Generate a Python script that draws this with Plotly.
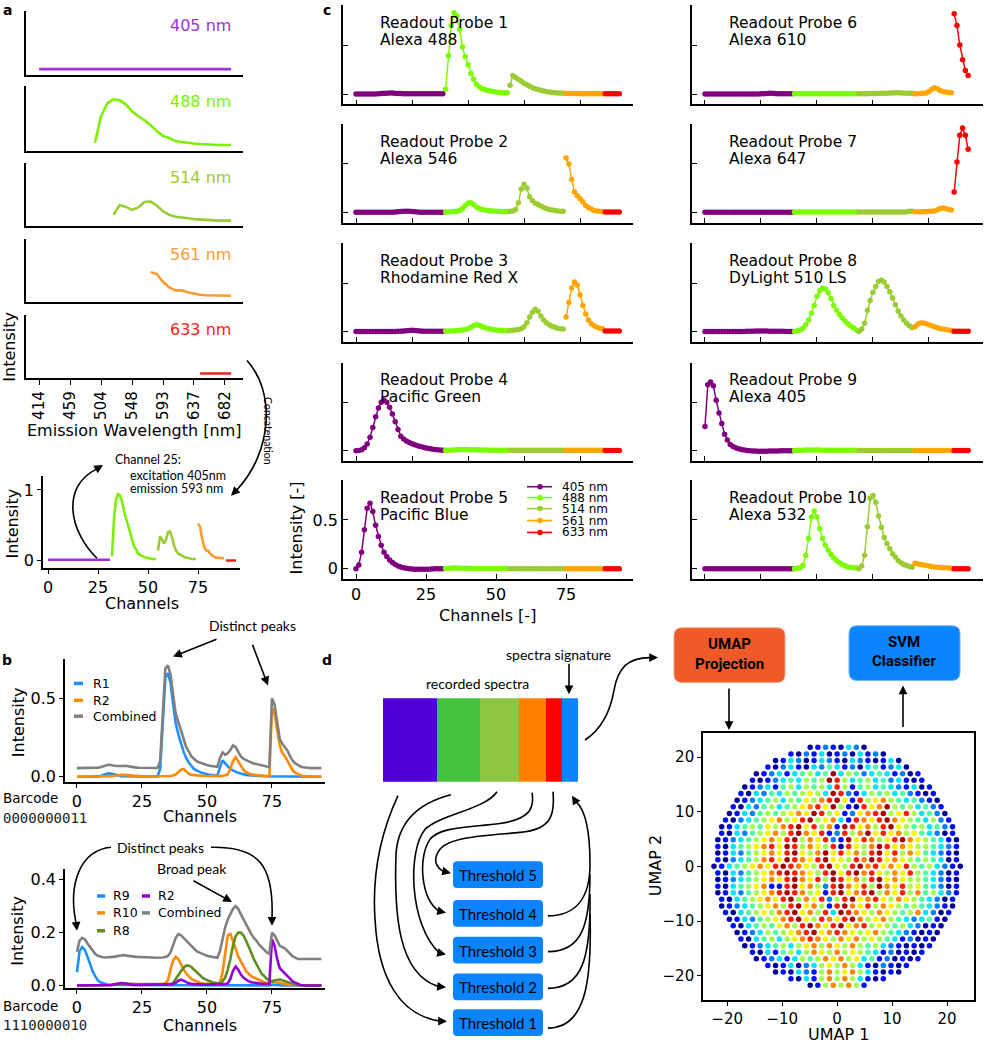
import plotly.graph_objects as go

W, H = 986, 1050
FONT = "DejaVu Sans"
SANS2 = "Lato"

# ------------------------------------------------------------------ data
lasers = ["405 nm", "488 nm", "514 nm", "561 nm", "633 nm"]
channel_start = [0, 32, 55, 75, 89]          # first concatenated channel of each laser
detector_first = [0, 9, 12, 18, 26]          # first detector used by each laser
detector_nm = [414 + 8.93 * k for k in range(32)]
wavelength_ticks = [414, 459, 504, 548, 593, 637, 682]

a_colors = ["#a02fdc", "#7cf000", "#9acd32", "#ff9a2e", "#ff1a1a"]
c_colors = ["#800080", "#7cfc00", "#9acd32", "#ffa500", "#ff0000"]

# panel a: one spectrum, per excitation laser
a_spectrum = [
    [0.01, 0.01, 0.01, 0.008, 0.01, 0.012, 0.01, 0.01, 0.01, 0.012, 0.015, 0.012, 0.01, 0.012, 0.015, 0.018,
     0.015, 0.012, 0.01, 0.012, 0.016, 0.018, 0.015, 0.012, 0.01, 0.012, 0.014, 0.012, 0.01, 0.01, 0.01, 0.01],
    [0.06, 0.6, 0.86, 0.94, 0.92, 0.84, 0.70, 0.60, 0.52, 0.42, 0.30, 0.20, 0.16, 0.10, 0.08, 0.06, 0.05,
     0.04, 0.03, 0.03, 0.02, 0.02, 0.02],
    [0.14, 0.34, 0.30, 0.24, 0.29, 0.40, 0.41, 0.33, 0.21, 0.14, 0.10, 0.09, 0.07, 0.05, 0.04, 0.03, 0.03,
     0.02, 0.02, 0.02],
    [0.52, 0.48, 0.32, 0.20, 0.14, 0.14, 0.10, 0.07, 0.05, 0.04, 0.04, 0.03, 0.03, 0.03],
    [0.0, 0.0, 0.0, 0.0, 0.0, 0.0],
]

# panel b (top): readout R1, R2 and their combination
b1_r1 = [
    [0, 0, 0, 0, 0, 0, 0, 0, 0, 0.005, 0.01, 0.018, 0.022, 0.02, 0.015, 0.01, 0.006, 0.004, 0.003, 0.002,
     0.002, 0.002, 0.002, 0.002, 0.002, 0.002, 0.002, 0.002, 0.002, 0.002, 0.002, 0.002],
    [0.05, 0.35, 0.63, 0.66, 0.6, 0.46, 0.34, 0.27, 0.21, 0.16, 0.12, 0.09, 0.07, 0.05, 0.04, 0.03, 0.025,
     0.02, 0.015, 0.012, 0.01, 0.008, 0.006],
    [0.06, 0.105, 0.085, 0.065, 0.05, 0.04, 0.03, 0.025, 0.02, 0.015, 0.012, 0.01, 0.008, 0.007, 0.006,
     0.005, 0.004, 0.003, 0.003, 0.002],
    [0, 0, 0, 0, 0, 0, 0, 0, 0, 0, 0, 0, 0, 0],
    [0, 0, 0, 0, 0, 0],
]
b1_r2 = [
    [0, 0, 0, 0, 0, 0, 0, 0, 0, 0, 0, 0, 0.002, 0.004, 0.006, 0.009, 0.011, 0.012, 0.012, 0.01, 0.008,
     0.006, 0.004, 0.003, 0.002, 0.002, 0.002, 0.002, 0.002, 0.002, 0.002, 0.002],
    [0.002, 0.003, 0.003, 0.004, 0.005, 0.008, 0.015, 0.03, 0.045, 0.05, 0.035, 0.02, 0.012, 0.01, 0.008,
     0.007, 0.006, 0.005, 0.005, 0.004, 0.004, 0.004, 0.004],
    [0.004, 0.005, 0.008, 0.015, 0.05, 0.1, 0.125, 0.1, 0.07, 0.045, 0.03, 0.02, 0.015, 0.012, 0.01, 0.008,
     0.007, 0.006, 0.005, 0.005],
    [0.44, 0.40, 0.30, 0.20, 0.15, 0.13, 0.10, 0.07, 0.04, 0.025, 0.015, 0.01, 0.005, 0.003],
    [0, 0, 0, 0, 0, 0],
]
b1_combined = [
    [0.055, 0.055, 0.055, 0.055, 0.055, 0.055, 0.055, 0.056, 0.058, 0.06, 0.065, 0.072, 0.076, 0.075, 0.07,
     0.068, 0.068, 0.07, 0.072, 0.07, 0.066, 0.062, 0.06, 0.058, 0.057, 0.057, 0.057, 0.056, 0.056, 0.056,
     0.056, 0.056],
    [0.1, 0.4, 0.69, 0.71, 0.65, 0.52, 0.40, 0.35, 0.30, 0.25, 0.19, 0.16, 0.13, 0.115, 0.1, 0.092, 0.085,
     0.08, 0.075, 0.07, 0.068, 0.065, 0.063],
    [0.12, 0.155, 0.14, 0.15, 0.17, 0.2, 0.19, 0.16, 0.13, 0.115, 0.105, 0.1, 0.09, 0.085, 0.08, 0.075, 0.07,
     0.068, 0.065, 0.063],
    [0.5, 0.46, 0.35, 0.24, 0.21, 0.185, 0.165, 0.13, 0.1, 0.085, 0.072, 0.065, 0.06, 0.057],
    [0.055, 0.055, 0.055, 0.055, 0.055, 0.055],
]

# panel b (bottom): readouts R9, R10, R8, R2 and their combination
b2_r9 = [
    [0.05, 0.13, 0.145, 0.135, 0.11, 0.08, 0.055, 0.035, 0.02, 0.012, 0.008, 0.005, 0.003, 0.002, 0.002,
     0.002, 0.002, 0.002, 0.002, 0.002, 0.001, 0.001, 0.001, 0.001, 0.001, 0.001, 0.001, 0.001, 0.001,
     0.001, 0.001, 0.001],
    [0.001, 0.001, 0.001, 0.001, 0.001, 0.001, 0.001, 0.001, 0.001, 0.001, 0.001, 0.001, 0.001, 0.001,
     0.001, 0.001, 0.001, 0.001, 0.001, 0.001, 0.001, 0.001, 0.001],
    [0, 0, 0, 0, 0, 0, 0, 0, 0, 0, 0, 0, 0, 0, 0, 0, 0, 0, 0, 0],
    [0.003, 0.003, 0.002, 0.001, 0, 0, 0, 0, 0, 0, 0, 0, 0, 0],
    [0, 0, 0, 0, 0, 0],
]
b2_r10 = [
    [0, 0, 0, 0, 0, 0, 0, 0, 0, 0, 0, 0, 0, 0.002, 0.004, 0.006, 0.008, 0.008, 0.007, 0.006, 0.005, 0.004,
     0.003, 0.003, 0.003, 0.003, 0.003, 0.003, 0.003, 0.003, 0.003, 0.003],
    [0.003, 0.004, 0.008, 0.02, 0.06, 0.095, 0.108, 0.1, 0.08, 0.06, 0.045, 0.035, 0.025, 0.02, 0.015,
     0.01, 0.008, 0.007, 0.006, 0.006, 0.005, 0.005, 0.005],
    [0.01, 0.05, 0.13, 0.19, 0.195, 0.17, 0.14, 0.11, 0.09, 0.07, 0.055, 0.045, 0.035, 0.03, 0.025, 0.02,
     0.015, 0.012, 0.01, 0.01],
    [0.015, 0.012, 0.01, 0.01, 0.008, 0.005, 0.003, 0.002, 0.002, 0.001, 0.001, 0, 0, 0],
    [0, 0, 0, 0, 0, 0],
]
b2_r8 = [
    [0, 0, 0, 0, 0, 0, 0, 0, 0, 0, 0, 0, 0, 0.002, 0.003, 0.004, 0.005, 0.006, 0.006, 0.006, 0.005, 0.005,
     0.004, 0.004, 0.004, 0.004, 0.004, 0.004, 0.004, 0.004, 0.004, 0.004],
    [0.004, 0.004, 0.004, 0.004, 0.005, 0.01, 0.025, 0.04, 0.055, 0.068, 0.075, 0.075, 0.07, 0.06, 0.05,
     0.04, 0.032, 0.025, 0.02, 0.015, 0.012, 0.01, 0.008],
    [0.01, 0.015, 0.03, 0.06, 0.1, 0.15, 0.185, 0.2, 0.2, 0.19, 0.17, 0.15, 0.125, 0.1, 0.08, 0.06, 0.045,
     0.035, 0.025, 0.02],
    [0.015, 0.02, 0.022, 0.022, 0.02, 0.016, 0.012, 0.008, 0.005, 0.003, 0.002, 0.001, 0, 0],
    [0, 0, 0, 0, 0, 0],
]
b2_r2 = [
    [0, 0, 0, 0, 0, 0, 0, 0, 0, 0, 0, 0, 0, 0.002, 0.004, 0.006, 0.008, 0.009, 0.008, 0.006, 0.004, 0.003,
     0.002, 0.002, 0.002, 0.002, 0.002, 0.002, 0.002, 0.002, 0.002, 0.002],
    [0.002, 0.002, 0.003, 0.003, 0.004, 0.006, 0.01, 0.018, 0.022, 0.018, 0.012, 0.008, 0.006, 0.005,
     0.004, 0.004, 0.004, 0.003, 0.003, 0.003, 0.003, 0.003, 0.003],
    [0.003, 0.004, 0.005, 0.008, 0.025, 0.055, 0.072, 0.06, 0.042, 0.03, 0.022, 0.016, 0.012, 0.01, 0.009,
     0.008, 0.007, 0.006, 0.005, 0.005],
    [0.175, 0.15, 0.1, 0.065, 0.055, 0.045, 0.035, 0.025, 0.015, 0.01, 0.005, 0.002, 0.001, 0],
    [0, 0, 0, 0, 0, 0],
]
b2_combined = [
    [0.127, 0.17, 0.18, 0.175, 0.16, 0.145, 0.13, 0.12, 0.112, 0.108, 0.107, 0.106, 0.106, 0.107, 0.108,
     0.11, 0.112, 0.114, 0.115, 0.113, 0.111, 0.11, 0.109, 0.108, 0.108, 0.107, 0.107, 0.106, 0.106, 0.106,
     0.105, 0.105],
    [0.105, 0.106, 0.108, 0.112, 0.125, 0.155, 0.18, 0.195, 0.19, 0.18, 0.17, 0.16, 0.15, 0.14, 0.13,
     0.125, 0.12, 0.115, 0.112, 0.11, 0.108, 0.106, 0.105],
    [0.13, 0.18, 0.22, 0.25, 0.27, 0.29, 0.30, 0.29, 0.27, 0.25, 0.23, 0.21, 0.195, 0.18, 0.17, 0.155,
     0.145, 0.135, 0.125, 0.12],
    [0.2, 0.19, 0.17, 0.15, 0.145, 0.14, 0.13, 0.12, 0.11, 0.105, 0.1, 0.1, 0.1, 0.1],
    [0.1, 0.1, 0.1, 0.1, 0.1, 0.1],
]

# panel c: normalised spectra of the ten readout probes, per excitation laser
probe_names = [("Readout Probe 1", "Alexa 488"), ("Readout Probe 2", "Alexa 546"),
               ("Readout Probe 3", "Rhodamine Red X"), ("Readout Probe 4", "Pacific Green"),
               ("Readout Probe 5", "Pacific Blue"), ("Readout Probe 6", "Alexa 610"),
               ("Readout Probe 7", "Alexa 647"), ("Readout Probe 8", "DyLight 510 LS"),
               ("Readout Probe 9", "Alexa 405"), ("Readout Probe 10", "Alexa 532")]

probe1 = [
    [0, 0, 0, 0, 0, 0, 0, 0, 0.003, 0.005, 0.007, 0.008, 0.01, 0.01, 0.008, 0.006, 0.005, 0.004, 0.003,
     0.003, 0.002, 0.002, 0.002, 0.002, 0.002, 0.002, 0.002, 0.002, 0.002, 0.002, 0.002, 0.002],
    [0.05, 0.39, 0.70, 0.83, 0.80, 0.66, 0.48, 0.38, 0.30, 0.21, 0.15, 0.10, 0.074, 0.055, 0.045, 0.035,
     0.03, 0.025, 0.02, 0.016, 0.013, 0.012, 0.012],
    [0.09, 0.19, 0.17, 0.15, 0.13, 0.11, 0.095, 0.08, 0.065, 0.055, 0.045, 0.038, 0.03, 0.025, 0.02, 0.016,
     0.013, 0.01, 0.01, 0.008],
    [0.006, 0.005, 0.005, 0.005, 0.005, 0.004, 0.004, 0.004, 0.004, 0.004, 0.004, 0.004, 0.004, 0.004],
    [0.003, 0.003, 0.003, 0.003, 0.003, 0.003],
]
probe2 = [
    [0, 0, 0, 0, 0, 0, 0, 0, 0, 0, 0, 0, 0, 0.002, 0.004, 0.006, 0.008, 0.01, 0.012, 0.01, 0.008, 0.005,
     0.003, 0.002, 0.002, 0.002, 0.002, 0.002, 0.002, 0.002, 0.002, 0.002],
    [0.003, 0.003, 0.005, 0.008, 0.012, 0.02, 0.04, 0.07, 0.095, 0.1, 0.08, 0.055, 0.04, 0.03, 0.025, 0.02,
     0.016, 0.013, 0.01, 0.01, 0.008, 0.008, 0.008],
    [0.01, 0.015, 0.03, 0.1, 0.24, 0.29, 0.25, 0.16, 0.12, 0.095, 0.08, 0.065, 0.05, 0.04, 0.03, 0.025,
     0.02, 0.015, 0.012, 0.01],
    [0.56, 0.50, 0.34, 0.21, 0.17, 0.14, 0.11, 0.07, 0.05, 0.035, 0.02, 0.015, 0.01, 0.008],
    [0.003, 0.003, 0.003, 0.003, 0.003, 0.003],
]
probe3 = [
    [0, 0, 0, 0, 0, 0, 0, 0, 0, 0, 0, 0, 0, 0, 0, 0.002, 0.004, 0.006, 0.008, 0.01, 0.012, 0.01, 0.008,
     0.006, 0.004, 0.003, 0.002, 0.002, 0.002, 0.002, 0.002, 0.002],
    [0.005, 0.005, 0.006, 0.008, 0.01, 0.012, 0.015, 0.02, 0.03, 0.045, 0.06, 0.07, 0.065, 0.05, 0.04,
     0.032, 0.026, 0.02, 0.016, 0.013, 0.01, 0.01, 0.008],
    [0.01, 0.012, 0.015, 0.02, 0.03, 0.05, 0.09, 0.15, 0.2, 0.23, 0.21, 0.16, 0.12, 0.09, 0.07, 0.055,
     0.045, 0.035, 0.03, 0.025],
    [0.15, 0.3, 0.45, 0.51, 0.48, 0.38, 0.27, 0.18, 0.12, 0.08, 0.06, 0.045, 0.035, 0.03],
    [0.005, 0.005, 0.005, 0.005, 0.005, 0.005],
]
probe4 = [
    [0.0, 0.003, 0.01, 0.03, 0.07, 0.14, 0.24, 0.35, 0.44, 0.5, 0.52, 0.5, 0.45, 0.38, 0.3, 0.22, 0.15,
     0.12, 0.1, 0.085, 0.072, 0.062, 0.052, 0.043, 0.035, 0.028, 0.022, 0.017, 0.013, 0.01, 0.008, 0.006],
    [0.006, 0.006, 0.007, 0.008, 0.01, 0.012, 0.012, 0.012, 0.011, 0.01, 0.01, 0.009, 0.008, 0.008, 0.007,
     0.007, 0.006, 0.006, 0.005, 0.005, 0.005, 0.005, 0.005],
    [0.005, 0.005, 0.005, 0.005, 0.005, 0.005, 0.005, 0.005, 0.005, 0.005, 0.005, 0.005, 0.005, 0.005,
     0.005, 0.005, 0.005, 0.005, 0.005, 0.005],
    [0.004, 0.004, 0.004, 0.004, 0.004, 0.004, 0.004, 0.004, 0.004, 0.004, 0.004, 0.004, 0.004, 0.004],
    [0.003, 0.003, 0.003, 0.003, 0.003, 0.003],
]
probe5 = [
    [0.0, 0.04, 0.17, 0.40, 0.62, 0.67, 0.585, 0.445, 0.33, 0.24, 0.17, 0.125, 0.09, 0.065, 0.045, 0.03,
     0.02, 0.012, 0.006, 0.002, -0.002, -0.004, -0.005, -0.005, -0.005, -0.004, -0.003, -0.002, 0.0, 0.0,
     0.0, 0.0],
    [0.003, 0.005, 0.007, 0.008, 0.008, 0.007, 0.006, 0.005, 0.004, 0.004, 0.003, 0.003, 0.003, 0.003,
     0.003, 0.003, 0.003, 0.003, 0.003, 0.003, 0.003, 0.003, 0.003],
    [0.002, 0.002, 0.002, 0.002, 0.002, 0.002, 0.002, 0.002, 0.002, 0.002, 0.002, 0.002, 0.002, 0.002,
     0.002, 0.002, 0.002, 0.002, 0.002, 0.002],
    [0.002, 0.002, 0.002, 0.002, 0.002, 0.002, 0.002, 0.002, 0.002, 0.002, 0.002, 0.002, 0.002, 0.002],
    [0.002, 0.002, 0.002, 0.002, 0.002, 0.002],
]
probe6 = [
    [0, 0, 0, 0, 0, 0, 0, 0, 0, 0, 0, 0, 0, 0, 0, 0, 0, 0, 0, 0, 0.002, 0.004, 0.006, 0.008, 0.008,
     0.006, 0.004, 0.003, 0.002, 0.002, 0.002, 0.002],
    [0.003, 0.003, 0.003, 0.003, 0.003, 0.003, 0.003, 0.003, 0.003, 0.003, 0.003, 0.003, 0.003, 0.003,
     0.003, 0.003, 0.003, 0.003, 0.003, 0.003, 0.003, 0.003, 0.003],
    [0.004, 0.004, 0.004, 0.004, 0.005, 0.005, 0.005, 0.006, 0.007, 0.008, 0.009, 0.01, 0.011, 0.012,
     0.012, 0.011, 0.01, 0.009, 0.008, 0.007],
    [0.003, 0.004, 0.005, 0.007, 0.01, 0.025, 0.05, 0.065, 0.055, 0.035, 0.025, 0.02, 0.015, 0.012],
    [0.82, 0.70, 0.50, 0.35, 0.24, 0.19],
]
probe7 = [
    [0.002, 0.002, 0.002, 0.002, 0.002, 0.002, 0.002, 0.002, 0.002, 0.002, 0.002, 0.002, 0.002, 0.002,
     0.002, 0.002, 0.002, 0.002, 0.002, 0.002, 0.002, 0.002, 0.002, 0.002, 0.002, 0.002, 0.002, 0.002,
     0.002, 0.002, 0.002, 0.002],
    [0.003, 0.003, 0.003, 0.003, 0.003, 0.003, 0.003, 0.003, 0.003, 0.003, 0.003, 0.003, 0.003, 0.003,
     0.003, 0.003, 0.003, 0.003, 0.003, 0.003, 0.003, 0.003, 0.003],
    [0.004, 0.004, 0.004, 0.004, 0.004, 0.004, 0.004, 0.004, 0.004, 0.004, 0.004, 0.004, 0.004, 0.004,
     0.004, 0.004, 0.004, 0.006, 0.01, 0.012],
    [0.005, 0.005, 0.005, 0.006, 0.008, 0.01, 0.012, 0.015, 0.025, 0.04, 0.045, 0.04, 0.03, 0.025],
    [0.21, 0.52, 0.795, 0.87, 0.795, 0.65],
]
probe8 = [
    [0, 0, 0, 0, 0, 0, 0, 0, 0, 0, 0, 0, 0, 0, 0, 0.002, 0.003, 0.004, 0.005, 0.005, 0.005, 0.005, 0.005,
     0.004, 0.004, 0.003, 0.003, 0.002, 0.002, 0.001, 0.001, 0.0],
    [0.0, 0.007, 0.017, 0.034, 0.07, 0.12, 0.19, 0.27, 0.365, 0.42, 0.445, 0.44, 0.40, 0.34, 0.27, 0.22,
     0.175, 0.14, 0.11, 0.08, 0.057, 0.04, 0.017],
    [0.0, 0.027, 0.085, 0.22, 0.32, 0.405, 0.466, 0.52, 0.53, 0.51, 0.466, 0.41, 0.345, 0.277, 0.21, 0.16,
     0.12, 0.085, 0.06, 0.04],
    [0.05, 0.077, 0.088, 0.088, 0.08, 0.07, 0.06, 0.05, 0.04, 0.03, 0.025, 0.02, 0.015, 0.01],
    [0.003, 0.003, 0.003, 0.003, 0.003, 0.003],
]
probe9 = [
    [0.25, 0.68, 0.71, 0.67, 0.52, 0.39, 0.28, 0.17, 0.11, 0.065, 0.045, 0.03, 0.02, 0.012, 0.007, 0.003,
     0.0, -0.003, -0.004, -0.005, -0.005, -0.005, -0.005, -0.004, -0.004, -0.003, -0.002, -0.001, 0.0, 0.0,
     0.0, 0.0],
    [0.003, 0.004, 0.005, 0.006, 0.007, 0.008, 0.008, 0.008, 0.007, 0.007, 0.006, 0.006, 0.005, 0.005,
     0.005, 0.005, 0.004, 0.004, 0.004, 0.004, 0.004, 0.004, 0.004],
    [0.003, 0.003, 0.003, 0.003, 0.003, 0.003, 0.003, 0.003, 0.003, 0.003, 0.003, 0.003, 0.003, 0.003,
     0.003, 0.003, 0.003, 0.003, 0.003, 0.003],
    [0.003, 0.003, 0.003, 0.003, 0.003, 0.003, 0.003, 0.003, 0.003, 0.003, 0.003, 0.003, 0.003, 0.003],
    [0.003, 0.003, 0.003, 0.003, 0.003, 0.003],
]
probe10 = [
    [0.002, 0.002, 0.002, 0.002, 0.002, 0.002, 0.002, 0.002, 0.002, 0.002, 0.002, 0.002, 0.002, 0.002,
     0.002, 0.002, 0.002, 0.002, 0.002, 0.002, 0.002, 0.002, 0.002, 0.002, 0.002, 0.002, 0.002, 0.002,
     0.002, 0.002, 0.002, 0.002],
    [0.0, 0.005, 0.012, 0.035, 0.14, 0.31, 0.53, 0.59, 0.53, 0.41, 0.31, 0.24, 0.19, 0.146, 0.112, 0.085,
     0.061, 0.044, 0.031, 0.02, 0.015, 0.012, 0.01],
    [0.0, 0.03, 0.14, 0.43, 0.72, 0.75, 0.68, 0.54, 0.425, 0.32, 0.26, 0.204, 0.153, 0.12, 0.085, 0.061,
     0.044, 0.034, 0.024, 0.017],
    [0.058, 0.05, 0.045, 0.04, 0.035, 0.03, 0.025, 0.02, 0.017, 0.014, 0.012, 0.01, 0.008, 0.005],
    [0.002, 0.002, 0.002, 0.002, 0.002, 0.002],
]
probes = [probe1, probe2, probe3, probe4, probe5, probe6, probe7, probe8, probe9, probe10]

# panel d: UMAP embedding, one row of points per text line (letters = jet colour class)
umap_rows = [
    "NBLBNCLN",
    "BNLBCNBLNCBLN",
    "NBCLNBCLBNCLBNBCN",
    "BNLCBNCLTCBLNCTBLCN",
    "NBLCBCTGCTDCGTLCTCBLNB",
    "BNBLCTCGTGDRGCTGCTLCBNB",
    "NBLCBTGCGTGCRGBTGCTCLBCNB",
    "BNCLTCGTGYGCDRLBCGTGCTLBNB",
    "NBLCTGCGTYGORDYBRGYOGTCTLBN",
    "BNCLTGCTGYORYDGBNRYODGTGCTLB",
    "NBCLTGTGYOYDRGYBLYORDGYRGCTLN",
    "BNLCTGYOGYRDGYOCBROYRDOYGTCGLB",
    "NBCTGTYGORDYRGOBDRYOGRDYGTGCTLB",
    "BNCLTGYOGRDOYRBLRGODYRYOGYTCLNB",
    "NBLCTGYOYRDGOYRLBDYROGYRDOYGTCBN",
    "BNCTGYORYDRGOYGRNRYGODRYOYGGTCLB",
    "NBCLTGYOYRDYGODYRYOGRDYRGOYTCLBN",
    "BNLCTGORYDROYRDYYGRODRYOYGTGTCNB",
    "NBCTGYOYRDROYGRDYGRDORYOYRGTGCLBN",
    "BNCLTGYORDROYGRDYRDORYGOYRGTCLNB",
    "NBLCTGYOYRDOYRGDRYOGRDYOYGGTCLBN",
    "BNCTGYOBBRDYOGLRDOYRGDOYRGYTCLNB",
    "NBCLTGYORDROGYBRDYORDGOYRGOTGCLB",
    "BNCTGYOYRDGOYRLGRDYORYGOYGTCLNB",
    "NBLCTGYOGRDYOGBRDOYRGOYGTGTCLBN",
    "BNCTGYGORDYOGRCDROYGOYGTGOCLNB",
    "NBCLTGYORDYGROYRDOGYOGTCLCTBN",
    "BNCTGTYOGRDOYRDYORGYGTGCLNBN",
    "NBLCGTGYORDYOROYGYOGTCLBNBN",
    "BNCTGCGYOROYGOYOGYGTCBLNBN",
    "NBLCTGCGYOGOYGOGTGCLBNBNB",
    "BNCBTGCGOYGOGYGTCBLNBNB",
    "NBLCBCGTGOYOGYCTBLNBNB",
    "BNBCNLCGYGOGCBNLBNB",
    "NBNCLBGOGYOGCBNBN",
    "BNCBGOGOGCBNB",
    "NBGOGOGB",
]
umap_class_value = {"N": 0.02, "B": 0.14, "L": 0.25, "C": 0.35, "T": 0.45, "G": 0.55,
                    "Y": 0.65, "O": 0.77, "R": 0.88, "D": 0.97}
umap_top_row = 21.8
umap_row_gap = 1.21
umap_col_gap = 1.4

# ------------------------------------------------------------------ helpers
fig = go.Figure()
ax_layout = {}
ann = []
shp = []
counter = [0]


def new_axes(x0, x1, y0, y1, xr, yr, xo=None, yo=None):
    counter[0] += 1
    k = counter[0]
    s = "" if k == 1 else str(k)
    base = dict(showgrid=False, zeroline=False, showline=True, linecolor="black", linewidth=1.6,
                ticks="outside", tickcolor="black", tickwidth=1.4, ticklen=4,
                tickfont=dict(family=FONT, size=15, color="black"), fixedrange=True)
    xa = dict(base, domain=[x0 / W, x1 / W], range=xr, anchor="y" + s)
    ya = dict(base, domain=[1 - y1 / H, 1 - y0 / H], range=yr, anchor="x" + s)
    if xo:
        xa.update(xo)
    if yo:
        ya.update(yo)
    ax_layout["xaxis" + s] = xa
    ax_layout["yaxis" + s] = ya
    return "x" + s, "y" + s


def text(x, y, s, size=15, family=FONT, color="black", xa="center", ya="middle", angle=0, pad=1):
    ann.append(dict(x=x / W, y=1 - y / H, xref="paper", yref="paper", text=s, showarrow=False,
                    xanchor=xa, yanchor=ya, textangle=angle, borderpad=pad,
                    font=dict(family=family, size=size, color=color)))


def arrow(tipx, tipy, tailx, taily, width=1.6, size=1.1):
    ann.append(dict(x=tipx / W, y=1 - tipy / H, xref="paper", yref="paper",
                    ax=tailx - tipx, ay=taily - tipy, axref="pixel", ayref="pixel",
                    text="", showarrow=True, arrowhead=2, arrowsize=size, arrowwidth=width,
                    arrowcolor="black", standoff=0, startstandoff=0))


def svg(tokens):
    out, nums = [], []
    for t in tokens:
        if isinstance(t, str):
            out.append(t)
        else:
            nums.append(t)
            if len(nums) == 2:
                out.append(f"{nums[0] / W:.5f},{1 - nums[1] / H:.5f}")
                nums = []
    return " ".join(out)


def curve(tokens, width=1.6, color="black"):
    shp.append(dict(type="path", xref="paper", yref="paper", path=svg(tokens),
                    line=dict(color=color, width=width), layer="above"))


def box(x0, y0, x1, y1, fill, r=0, line_color=None, lw=0):
    if r == 0:
        toks = ["M", x0, y0, "L", x1, y0, "L", x1, y1, "L", x0, y1, "Z"]
    else:
        toks = ["M", x0 + r, y0, "L", x1 - r, y0, "Q", x1, y0, x1, y0 + r, "L", x1, y1 - r,
                "Q", x1, y1, x1 - r, y1, "L", x0 + r, y1, "Q", x0, y1, x0, y1 - r,
                "L", x0, y0 + r, "Q", x0, y0, x0 + r, y0, "Z"]
    shp.append(dict(type="path", xref="paper", yref="paper", path=svg(toks), fillcolor=fill,
                    line=dict(color=line_color or fill, width=lw), layer="above"))


def seg_line(x0, y0, x1, y1, color, width):
    shp.append(dict(type="line", xref="paper", yref="paper", x0=x0 / W, x1=x1 / W,
                    y0=1 - y0 / H, y1=1 - y1 / H, line=dict(color=color, width=width)))


def dot(x, y, r, color):
    shp.append(dict(type="circle", xref="paper", yref="paper", x0=(x - r) / W, x1=(x + r) / W,
                    y0=1 - (y + r) / H, y1=1 - (y - r) / H, fillcolor=color, line=dict(width=0)))


def channels(k, values):
    return list(range(channel_start[k], channel_start[k] + len(values)))


# ------------------------------------------------------------------ panel a
a_tops = [11, 87, 164, 241, 317]
a_bots = [75, 152, 228, 304, 381]
for k in range(5):
    if k < 4:
        xo = dict(showticklabels=False, ticks="")
    else:
        xo = dict(tickvals=wavelength_ticks, tickangle=-90, ticklen=5,
                  tickfont=dict(family=FONT, size=15, color="black"))
    xa, ya = new_axes(26, 243, a_tops[k], a_bots[k], [395, 708], [-0.1, 1.2], xo,
                      dict(showticklabels=False, ticks=""))
    xs = detector_nm[detector_first[k]:detector_first[k] + len(a_spectrum[k])]
    fig.add_trace(go.Scatter(x=xs, y=a_spectrum[k], mode="lines", xaxis=xa, yaxis=ya,
                             line=dict(color=a_colors[k], width=2.6), hoverinfo="skip"))
    text(233, a_tops[k] + 15, lasers[k], size=16, color=a_colors[k], xa="right")
text(10, 349, "Intensity", size=16, angle=-90)
text(134, 433, "Emission Wavelength [nm]", size=16)

xa, ya = new_axes(43, 240, 479, 572, [-2.5, 96], [-0.11, 1.2],
                  dict(tickvals=[0, 25, 50, 75], tickfont=dict(family=FONT, size=16, color="black")),
                  dict(tickvals=[0, 1], tickfont=dict(family=FONT, size=16, color="black")))
for k in range(5):
    fig.add_trace(go.Scatter(x=channels(k, a_spectrum[k]), y=a_spectrum[k], mode="lines",
                             xaxis=xa, yaxis=ya, line=dict(color=a_colors[k], width=2.6),
                             hoverinfo="skip"))
text(12, 527, "Intensity", size=16, angle=-90)
text(142, 608, "Channels", size=16)

# arrows of panel a
curve(["M", 247, 363, "C", 276, 395, 272, 455, 237, 493])
arrow(231, 499, 239, 491)
text(268, 434, "Concatenation", size=10.5, family=SANS2, angle=90)
curve(["M", 97, 562, "C", 70, 536, 60, 490, 97, 472])
arrow(103, 468, 95, 473)
text(113, 463, "Channel 25:", size=12.5, family=SANS2, xa="left")
text(128, 479, "excitation 405nm", size=12.5, family=SANS2, xa="left")
text(128, 492, "emission 593 nm", size=12.5, family=SANS2, xa="left")


# ------------------------------------------------------------------ panel b
def flat(segs):
    xs, ys = [], []
    for k, v in enumerate(segs):
        xs += channels(k, v)
        ys += v
    return xs, ys


b_tick = dict(family=FONT, size=16, color="black")
xa, ya = new_axes(65, 325, 663, 787, [-4.6, 95.4], [-0.032, 0.753],
                  dict(tickvals=[0, 25, 50, 75], tickfont=b_tick),
                  dict(tickvals=[0, 0.5], ticktext=["0.0", "0.5"], tickfont=b_tick))
for segs, col in [(b1_r1, "#1e8fff"), (b1_r2, "#ff8a00"), (b1_combined, "#808080")]:
    xs, ys = flat(segs)
    fig.add_trace(go.Scatter(x=xs, y=ys, mode="lines", xaxis=xa, yaxis=ya,
                             line=dict(color=col, width=2.6), hoverinfo="skip"))
xa, ya = new_axes(65, 325, 875, 995, [-4.6, 95.4], [-0.011, 0.44],
                  dict(tickvals=[0, 25, 50, 75], tickfont=b_tick),
                  dict(tickvals=[0, 0.2, 0.4], ticktext=["0.0", "0.2", "0.4"], tickfont=b_tick))
for segs, col in [(b2_r9, "#1e8fff"), (b2_r10, "#ff8a00"), (b2_r8, "#5f8e1e"),
                  (b2_r2, "#9400d3"), (b2_combined, "#808080")]:
    xs, ys = flat(segs)
    fig.add_trace(go.Scatter(x=xs, y=ys, mode="lines", xaxis=xa, yaxis=ya,
                             line=dict(color=col, width=2.6), hoverinfo="skip"))

# legends of panel b
for yy, col, lab in [(688, "#1e8fff", "R1"), (705, "#ff8a00", "R2"), (721, "#808080", "Combined")]:
    seg_line(74, yy, 83, yy, col, 3.5)
    text(92, yy, lab, size=12.5, xa="left", pad=0)
for xx, yy, col, lab in [(97, 902, "#1e8fff", "R9"), (97, 919, "#ff8a00", "R10"),
                         (97, 937, "#5f8e1e", "R8"), (142, 902, "#9400d3", "R2"),
                         (142, 919, "#808080", "Combined")]:
    seg_line(xx, yy, xx + 8, yy, col, 3.5)
    text(xx + 15, yy, lab, size=12.5, xa="left", pad=0)

text(18, 727, "Intensity", size=16, angle=-90)
text(18, 937, "Intensity", size=16, angle=-90)
text(200, 822, "Channels", size=16)
text(200, 1032, "Channels", size=16)
text(1, 803, "Barcode", size=13.5, xa="left")
text(1, 823, "0000000011", size=14, family="DejaVu Sans Mono", color="#222", xa="left")
text(1, 1013, "Barcode", size=13.5, xa="left")
text(1, 1032, "1110000010", size=14, family="DejaVu Sans Mono", color="#222", xa="left")

text(252, 630, "Distinct peaks", size=14, family=SANS2)
arrow(173, 661, 218, 643)
arrow(268, 690, 252, 648)
text(160, 853, "Distinct peaks", size=14, family=SANS2)
text(192, 874, "Broad peak", size=14, family=SANS2)
curve(["M", 111, 853, "C", 80, 856, 68, 890, 76, 929])
arrow(77, 937, 76, 928)
curve(["M", 211, 853, "C", 260, 852, 274, 872, 272, 925])
arrow(272, 932, 272, 923)
arrow(232, 908, 192, 886)

# ------------------------------------------------------------------ panel c
c_tops = [5, 125, 245, 365, 483]
c_bots = [105, 224, 344, 464, 583]
c_cols = [(343, 633, [-4.64, 98.9], 378), (692, 983, [-4.64, 99.3], 727)]
for p in range(10):
    col, row = p // 5, p % 5
    x0, x1, xr, tx = c_cols[col]
    labelled = (p == 4)
    if labelled:
        xo = dict(ticks="inside", tickvals=[0, 25, 50, 75], ticklen=5,
                  tickfont=dict(family=FONT, size=16, color="black"))
        yo = dict(ticks="inside", tickvals=[0, 0.5], ticktext=["0", "0.5"], ticklen=5,
                  tickfont=dict(family=FONT, size=16, color="black"))
    else:
        xo = dict(ticks="inside", tickvals=[0, 20, 40, 60, 80], showticklabels=False, ticklen=5)
        yo = dict(ticks="inside", tickvals=[0, 0.5], showticklabels=False, ticklen=5)
    xa, ya = new_axes(x0, x1, c_tops[row], c_bots[row], xr, [-0.105, 0.91], xo, yo)
    for k in range(5):
        vals = probes[p][k]
        fig.add_trace(go.Scatter(x=channels(k, vals), y=vals, mode="lines+markers",
                                 xaxis=xa, yaxis=ya, line=dict(color=c_colors[k], width=1.5),
                                 marker=dict(color=c_colors[k], size=5.5), hoverinfo="skip"))
    text(tx, c_tops[row] + 18, probe_names[p][0], size=15.5, xa="left")
    text(tx, c_tops[row] + 35, probe_names[p][1], size=15.5, xa="left")

text(296, 532, "Intensity [-]", size=16, angle=-90)
text(487, 620, "Channels [-]", size=16)
for k, yy in enumerate([490, 501, 512, 524, 536]):
    seg_line(527, yy, 552, yy, c_colors[k], 1.6)
    dot(540, yy, 2.8, c_colors[k])
    text(561, yy, lasers[k], size=12, xa="left", pad=0)

# ------------------------------------------------------------------ panel d
bar_edges = [383, 437, 480, 519, 546, 562, 578]
bar_colors = ["#5000d6", "#44c33c", "#8cc53f", "#ff7f00", "#ff0000", "#0a84ff"]
for i in range(6):
    box(bar_edges[i], 703, bar_edges[i + 1], 787, bar_colors[i])
text(477, 688, "recorded spectra", size=14, family=SANS2)
text(558, 659, "spectra signature", size=14, family=SANS2)
arrow(569, 699, 569, 667)

th_tops = [1016, 980, 943, 906, 867]
for i, t in enumerate(th_tops):
    box(453, t, 543, t + 27, "#0a84ff", r=4)
    text(498, t + 14, f"Threshold {i + 1}", size=15, family=SANS2)

# arrows from spectra segments to thresholds
curve(["M", 398, 801, "C", 380, 840, 372, 880, 375, 925, "C", 378, 985, 400, 1022, 440, 1028])
arrow(447, 1028, 439, 1028)
curve(["M", 451, 800, "C", 420, 808, 398, 825, 396, 860, "C", 394, 920, 398, 980, 438, 993])
arrow(446, 994, 438, 993)
curve(["M", 497, 797, "C", 485, 815, 440, 820, 425, 835, "C", 408, 855, 408, 930, 440, 960])
arrow(446, 961, 438, 959)
curve(["M", 532, 798, "C", 535, 815, 528, 825, 500, 829, "C", 470, 833, 440, 832, 430, 845,
       "C", 418, 862, 420, 905, 440, 918])
arrow(446, 919, 438, 917)
curve(["M", 553, 797, "C", 555, 820, 552, 835, 520, 838, "C", 490, 841, 450, 842, 440, 855,
       "C", 432, 866, 436, 874, 445, 878])
arrow(451, 879, 443, 877)
# arrows from thresholds back to signature
curve(["M", 548, 922, "C", 575, 922, 590, 905, 590, 870, "C", 590, 835, 585, 815, 576, 807])
arrow(572, 801, 577, 809)
curve(["M", 548, 958, "C", 580, 958, 590, 935, 590, 880])
curve(["M", 548, 995, "C", 582, 995, 591, 965, 590, 900])
curve(["M", 548, 1035, "C", 585, 1035, 592, 990, 590, 920])

# signature to UMAP
curve(["M", 585, 745, "C", 600, 735, 610, 718, 614, 695, "C", 618, 672, 628, 662, 650, 662])
arrow(658, 662, 649, 662)

box(674, 632, 785, 687, "#f05a28", r=8, line_color="#f7a080", lw=1)
text(729, 648, "<b>UMAP</b>", size=15, family="Roboto")
text(729, 668, "<b>Projection</b>", size=15, family="Roboto")
box(849, 630, 960, 685, "#0a84ff", r=8, line_color="#6ab4ff", lw=1)
text(904, 646, "<b>SVM</b>", size=15, family="Roboto")
text(904, 665, "<b>Classifier</b>", size=15, family="Roboto")
arrow(729, 735, 729, 692)
arrow(903, 690, 903, 733)

# UMAP scatter
ux, uy, uc = [], [], []
for i, row in enumerate(umap_rows):
    yv = umap_top_row - i * umap_row_gap
    n = len(row)
    for j, ch in enumerate(row):
        ux.append((j - (n - 1) / 2) * umap_col_gap)
        uy.append(yv)
        uc.append(umap_class_value[ch])

jet = [[0.0, "rgb(0,0,128)"], [0.11, "rgb(0,0,255)"], [0.125, "rgb(0,0,255)"],
       [0.34, "rgb(0,219,255)"], [0.35, "rgb(0,230,247)"], [0.375, "rgb(21,255,226)"],
       [0.64, "rgb(239,255,8)"], [0.65, "rgb(247,245,0)"], [0.66, "rgb(255,236,0)"],
       [0.89, "rgb(255,19,0)"], [0.91, "rgb(232,0,0)"], [1.0, "rgb(128,0,0)"]]
u_tick = dict(family=FONT, size=15, color="black")
xa, ya = new_axes(703, 974, 738, 1007, [-24.4, 24.9], [-24.5, 24.4],
                  dict(mirror=True, tickvals=[-20, -10, 0, 10, 20], tickfont=u_tick),
                  dict(mirror=True, tickvals=[-20, -10, 0, 10, 20], tickfont=u_tick))
fig.add_trace(go.Scatter(x=ux, y=uy, mode="markers", xaxis=xa, yaxis=ya,
                         marker=dict(size=5.5, color=uc, colorscale=jet, cmin=0, cmax=1,
                                     line=dict(width=0)), hoverinfo="skip"))
text(838, 1041, "UMAP 1", size=16)
text(655, 872, "UMAP 2", size=16, angle=-90)

# panel letters
for x, y, s in [(7, 0, "a"), (327, 0, "c"), (7, 654, "b"), (327, 654, "d")]:
    text(x, y, f"<b>{s}</b>", size=14, ya="top")

fig.update_layout(width=W, height=H, margin=dict(l=0, r=0, t=0, b=0),
                  paper_bgcolor="white", plot_bgcolor="white", showlegend=False,
                  font=dict(family=FONT, color="black"),
                  annotations=ann, shapes=shp, **ax_layout)
fig.write_html("out.html", config={"displayModeBar": False},
               post_script="document.body.style.margin='0';document.body.style.padding='0';")
